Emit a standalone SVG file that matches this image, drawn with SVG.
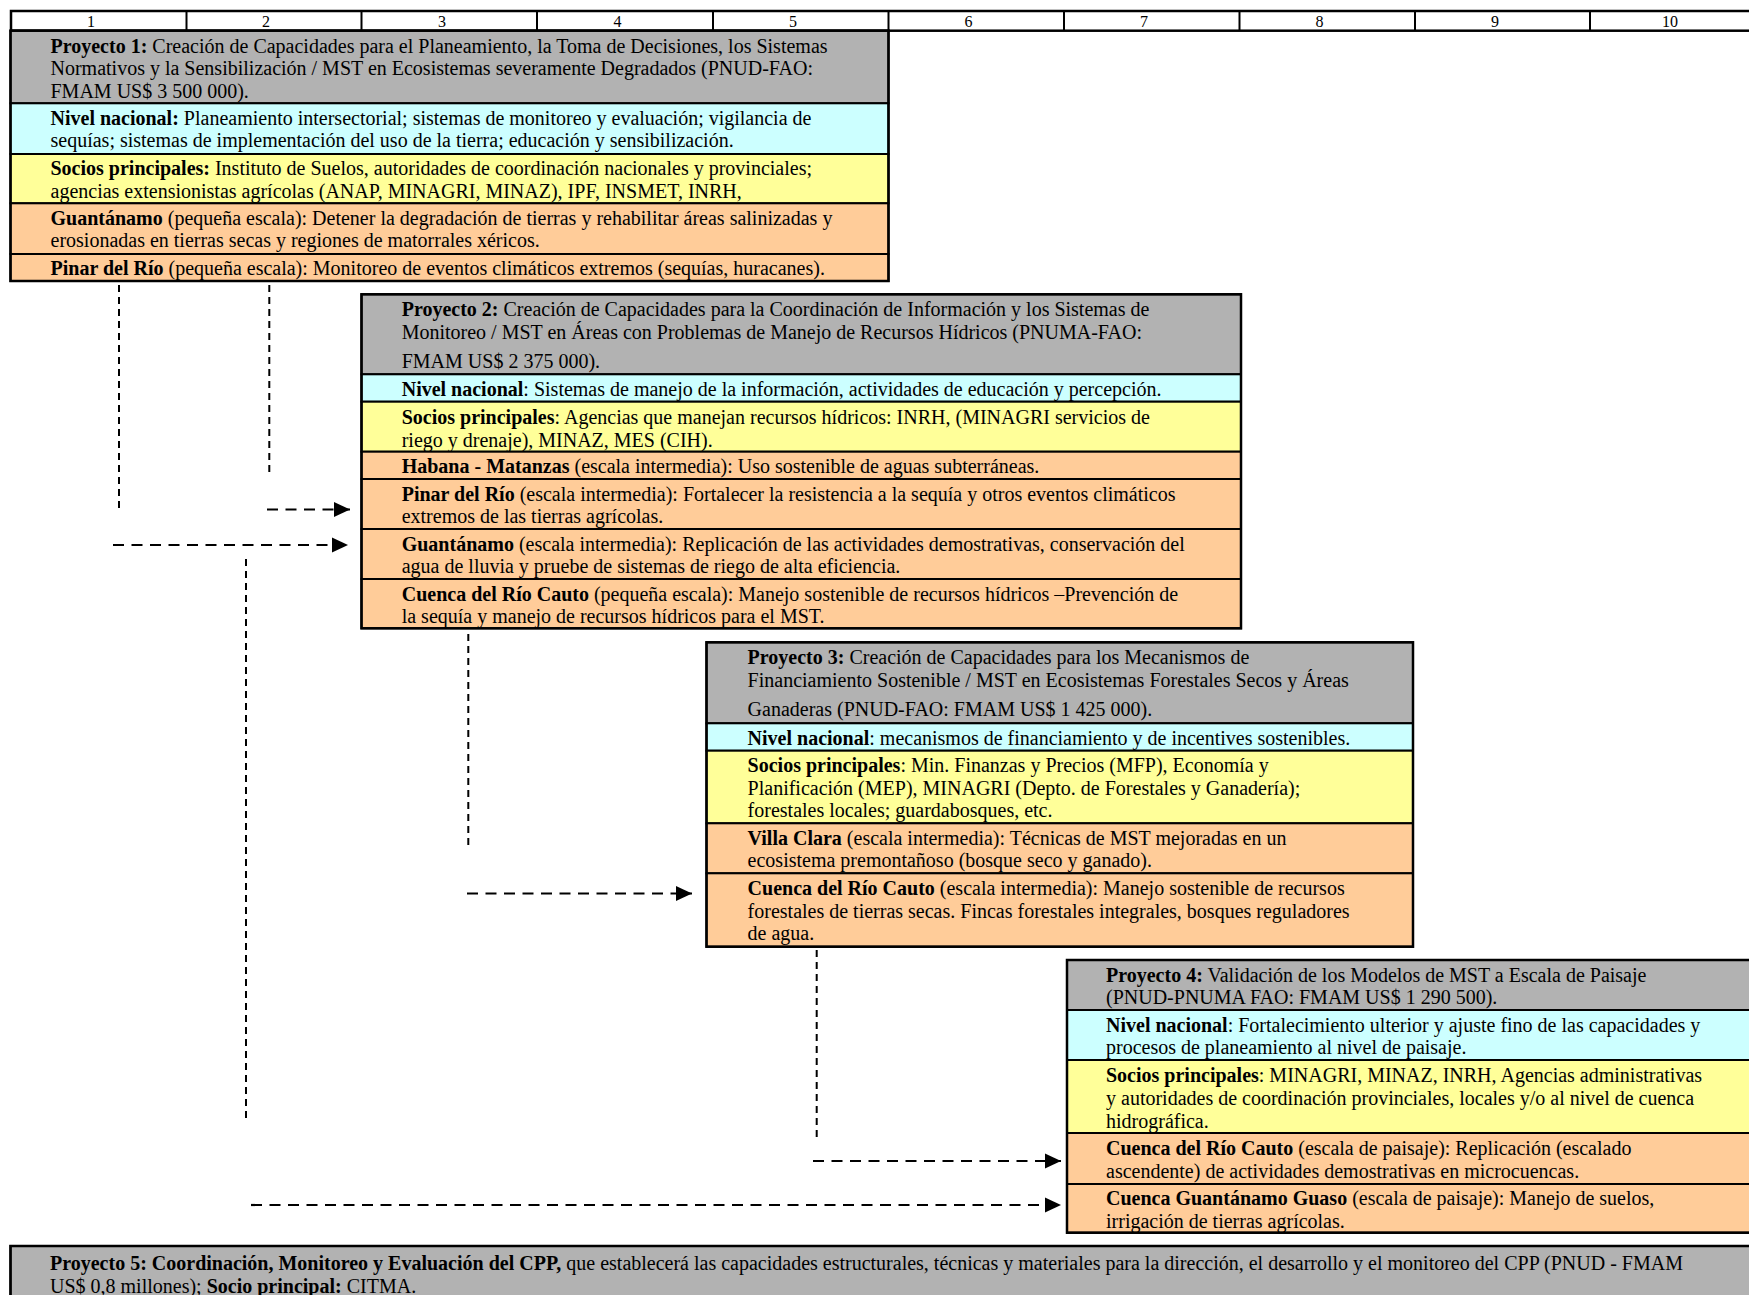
<svg xmlns="http://www.w3.org/2000/svg" width="1749" height="1295" viewBox="0 0 1749 1295">
<defs>
<style>
.t{font-family:"Liberation Serif","Times New Roman",serif;font-size:20px;fill:#000}
.b{font-weight:bold}
.num{font-family:"Liberation Serif","Times New Roman",serif;font-size:16px;fill:#000;text-anchor:middle}
.gray{fill:#B2B2B2;stroke:#000;stroke-width:2}
.cyan{fill:#CCFFFF;stroke:#000;stroke-width:2}
.yel{fill:#FFFF99;stroke:#000;stroke-width:2}
.org{fill:#FFCC99;stroke:#000;stroke-width:2}
.frame{fill:none;stroke:#000;stroke-width:2.5}
.sep{stroke:#000;stroke-width:2}
.dv{fill:none;stroke:#000;stroke-width:2;stroke-dasharray:7 5}
.dh{fill:none;stroke:#000;stroke-width:2.2;stroke-dasharray:11 7.5}
</style>
<marker id="ah" markerUnits="userSpaceOnUse" markerWidth="17" markerHeight="16" refX="16" refY="8" orient="auto" viewBox="0 0 17 16">
<path d="M0,0.5 L16,8 L0,15.5 z" fill="#000"/>
</marker>
</defs>
<rect width="1749" height="1295" fill="#fff"/>

<g id="header">
<rect x="11" y="11" width="1760" height="19.7" fill="#fff" stroke="#000" stroke-width="2.5"/>
<line class="sep" x1="186.5" y1="11" x2="186.5" y2="30.7"/>
<line class="sep" x1="361.5" y1="11" x2="361.5" y2="30.7"/>
<line class="sep" x1="537" y1="11" x2="537" y2="30.7"/>
<line class="sep" x1="713" y1="11" x2="713" y2="30.7"/>
<line class="sep" x1="888.5" y1="11" x2="888.5" y2="30.7"/>
<line class="sep" x1="1064" y1="11" x2="1064" y2="30.7"/>
<line class="sep" x1="1239.5" y1="11" x2="1239.5" y2="30.7"/>
<line class="sep" x1="1415" y1="11" x2="1415" y2="30.7"/>
<line class="sep" x1="1590" y1="11" x2="1590" y2="30.7"/>
<text class="num" x="91" y="26.5">1</text>
<text class="num" x="266" y="26.5">2</text>
<text class="num" x="442" y="26.5">3</text>
<text class="num" x="617.5" y="26.5">4</text>
<text class="num" x="793" y="26.5">5</text>
<text class="num" x="968.5" y="26.5">6</text>
<text class="num" x="1144" y="26.5">7</text>
<text class="num" x="1319.5" y="26.5">8</text>
<text class="num" x="1495" y="26.5">9</text>
<text class="num" x="1670" y="26.5">10</text>
</g>

<g id="proyecto-1">
<rect class="gray" x="10.5" y="30.7" width="878" height="72.6"/>
<rect class="cyan" x="10.5" y="103.3" width="878" height="50.7"/>
<rect class="yel" x="10.5" y="154" width="878" height="49.3"/>
<rect class="org" x="10.5" y="203.3" width="878" height="50.7"/>
<rect class="org" x="10.5" y="254" width="878" height="27"/>
<rect class="frame" x="10.5" y="30.7" width="878" height="250.3"/>
<text class="t" x="50.5" y="52.5"><tspan class="b">Proyecto 1:</tspan> Creación de Capacidades para el Planeamiento, la Toma de Decisiones, los Sistemas</text>
<text class="t" x="50.5" y="75.3">Normativos y la Sensibilización / MST en Ecosistemas severamente Degradados (PNUD-FAO:</text>
<text class="t" x="50.5" y="98">FMAM US$ 3 500 000).</text>
<text class="t" x="50.5" y="124.5"><tspan class="b">Nivel nacional:</tspan> Planeamiento intersectorial; sistemas de monitoreo y evaluación; vigilancia de</text>
<text class="t" x="50.5" y="147.3">sequías; sistemas de implementación del uso de la tierra; educación y sensibilización.</text>
<text class="t" x="50.5" y="175"><tspan class="b">Socios principales:</tspan> Instituto de Suelos, autoridades de coordinación nacionales y provinciales;</text>
<text class="t" x="50.5" y="197.8">agencias extensionistas agrícolas (ANAP, MINAGRI, MINAZ), IPF, INSMET, INRH,</text>
<text class="t" x="50.5" y="224.5"><tspan class="b">Guantánamo</tspan> (pequeña escala): Detener la degradación de tierras y rehabilitar áreas salinizadas y</text>
<text class="t" x="50.5" y="247.3">erosionadas en tierras secas y regiones de matorrales xéricos.</text>
<text class="t" x="50.5" y="274.5"><tspan class="b">Pinar del Río</tspan> (pequeña escala): Monitoreo de eventos climáticos extremos (sequías, huracanes).</text>
</g>

<g id="proyecto-2">
<rect class="gray" x="361.5" y="294.3" width="879.5" height="80"/>
<rect class="cyan" x="361.5" y="374.3" width="879.5" height="27.4"/>
<rect class="yel" x="361.5" y="401.7" width="879.5" height="50"/>
<rect class="org" x="361.5" y="451.7" width="879.5" height="27.3"/>
<rect class="org" x="361.5" y="479" width="879.5" height="50"/>
<rect class="org" x="361.5" y="529" width="879.5" height="50"/>
<rect class="org" x="361.5" y="579" width="879.5" height="49.3"/>
<rect class="frame" x="361.5" y="294.3" width="879.5" height="334"/>
<text class="t" x="401.7" y="315.5"><tspan class="b">Proyecto 2:</tspan> Creación de Capacidades para la Coordinación de Información y los Sistemas de</text>
<text class="t" x="401.7" y="338.5">Monitoreo / MST en Áreas con Problemas de Manejo de Recursos Hídricos (PNUMA-FAO:</text>
<text class="t" x="401.7" y="367.5">FMAM US$ 2 375 000).</text>
<text class="t" x="401.7" y="395.5"><tspan class="b">Nivel nacional</tspan>: Sistemas de manejo de la información, actividades de educación y percepción.</text>
<text class="t" x="401.7" y="423.5"><tspan class="b">Socios principales</tspan>: Agencias que manejan recursos hídricos: INRH, (MINAGRI servicios de</text>
<text class="t" x="401.7" y="446.5">riego y drenaje), MINAZ, MES (CIH).</text>
<text class="t" x="401.7" y="473"><tspan class="b">Habana - Matanzas</tspan> (escala intermedia): Uso sostenible de aguas subterráneas.</text>
<text class="t" x="401.7" y="500.5"><tspan class="b">Pinar del Río</tspan> (escala intermedia): Fortalecer la resistencia a la sequía y otros eventos climáticos</text>
<text class="t" x="401.7" y="523">extremos de las tierras agrícolas.</text>
<text class="t" x="401.7" y="550.5"><tspan class="b">Guantánamo</tspan> (escala intermedia): Replicación de las actividades demostrativas, conservación del</text>
<text class="t" x="401.7" y="573">agua de lluvia y pruebe de sistemas de riego de alta eficiencia.</text>
<text class="t" x="401.7" y="600.5"><tspan class="b">Cuenca del Río Cauto</tspan> (pequeña escala): Manejo sostenible de recursos hídricos –Prevención de</text>
<text class="t" x="401.7" y="623">la sequía y manejo de recursos hídricos para el MST.</text>
</g>

<g id="proyecto-3">
<rect class="gray" x="706.5" y="642.3" width="706.5" height="81"/>
<rect class="cyan" x="706.5" y="723.3" width="706.5" height="27.4"/>
<rect class="yel" x="706.5" y="750.7" width="706.5" height="72.6"/>
<rect class="org" x="706.5" y="823.3" width="706.5" height="50"/>
<rect class="org" x="706.5" y="873.3" width="706.5" height="73.4"/>
<rect class="frame" x="706.5" y="642.3" width="706.5" height="304.4"/>
<text class="t" x="747.6" y="663.5"><tspan class="b">Proyecto 3:</tspan> Creación de Capacidades para los Mecanismos de</text>
<text class="t" x="747.6" y="686.5">Financiamiento Sostenible / MST en Ecosistemas Forestales Secos y Áreas</text>
<text class="t" x="747.6" y="715.5">Ganaderas (PNUD-FAO: FMAM US$ 1 425 000).</text>
<text class="t" x="747.6" y="744.5"><tspan class="b">Nivel nacional</tspan>: mecanismos de financiamiento y de incentives sostenibles.</text>
<text class="t" x="747.6" y="772"><tspan class="b">Socios principales</tspan>: Min. Finanzas y Precios (MFP), Economía y</text>
<text class="t" x="747.6" y="794.5">Planificación (MEP), MINAGRI (Depto. de Forestales y Ganadería);</text>
<text class="t" x="747.6" y="817">forestales locales; guardabosques, etc.</text>
<text class="t" x="747.6" y="844.5"><tspan class="b">Villa Clara</tspan> (escala intermedia): Técnicas de MST mejoradas en un</text>
<text class="t" x="747.6" y="867">ecosistema premontañoso (bosque seco y ganado).</text>
<text class="t" x="747.6" y="894.5"><tspan class="b">Cuenca del Río Cauto</tspan> (escala intermedia): Manejo sostenible de recursos</text>
<text class="t" x="747.6" y="917.5">forestales de tierras secas. Fincas forestales integrales, bosques reguladores</text>
<text class="t" x="747.6" y="940">de agua.</text>
</g>

<g id="proyecto-4">
<rect class="gray" x="1067" y="960" width="700" height="50"/>
<rect class="cyan" x="1067" y="1010" width="700" height="50"/>
<rect class="yel" x="1067" y="1060" width="700" height="73"/>
<rect class="org" x="1067" y="1133" width="700" height="51"/>
<rect class="org" x="1067" y="1184" width="700" height="48.7"/>
<rect class="frame" x="1067" y="960" width="700" height="272.7"/>
<text class="t" x="1106" y="981.7"><tspan class="b">Proyecto 4:</tspan> Validación de los Modelos de MST a Escala de Paisaje</text>
<text class="t" x="1106" y="1004.3">(PNUD-PNUMA FAO: FMAM US$ 1 290 500).</text>
<text class="t" x="1106" y="1031.7"><tspan class="b">Nivel nacional</tspan>: Fortalecimiento ulterior y ajuste fino de las capacidades y</text>
<text class="t" x="1106" y="1054.3">procesos de planeamiento al nivel de paisaje.</text>
<text class="t" x="1106" y="1081.7"><tspan class="b">Socios principales</tspan>: MINAGRI, MINAZ, INRH, Agencias administrativas</text>
<text class="t" x="1106" y="1105">y autoridades de coordinación provinciales, locales y/o al nivel de cuenca</text>
<text class="t" x="1106" y="1127.7">hidrográfica.</text>
<text class="t" x="1106" y="1155"><tspan class="b">Cuenca del Río Cauto</tspan> (escala de paisaje): Replicación (escalado</text>
<text class="t" x="1106" y="1177.7">ascendente) de actividades demostrativas en microcuencas.</text>
<text class="t" x="1106" y="1205"><tspan class="b">Cuenca Guantánamo Guaso</tspan> (escala de paisaje): Manejo de suelos,</text>
<text class="t" x="1106" y="1227.7">irrigación de tierras agrícolas.</text>
</g>

<g id="proyecto-5">
<rect class="gray" x="10.5" y="1246" width="1760" height="60"/>
<rect class="frame" x="10.5" y="1246" width="1760" height="60"/>
<text class="t" x="50" y="1269.5"><tspan class="b">Proyecto 5: Coordinación, Monitoreo y Evaluación del CPP,</tspan> que establecerá las capacidades estructurales, técnicas y materiales para la dirección, el desarrollo y el monitoreo del CPP (PNUD - FMAM</text>
<text class="t" x="50" y="1292.5">US$ 0,8 millones); <tspan class="b">Socio principal:</tspan> CITMA.</text>
</g>

<g id="connectors">
<path class="dv" d="M119,285 V512"/>
<path class="dv" d="M269.3,285 V475"/>
<path class="dh" d="M267,509.5 H350" marker-end="url(#ah)"/>
<path class="dh" d="M113,545 H348" marker-end="url(#ah)"/>
<path class="dv" d="M246,559 V1123"/>
<path class="dh" d="M251,1205 H1061" marker-end="url(#ah)"/>
<path class="dv" d="M468.3,634 V850"/>
<path class="dh" d="M467,893.5 H692" marker-end="url(#ah)"/>
<path class="dv" d="M816.7,950 V1139"/>
<path class="dh" d="M813,1161 H1061" marker-end="url(#ah)"/>
</g>
</svg>
